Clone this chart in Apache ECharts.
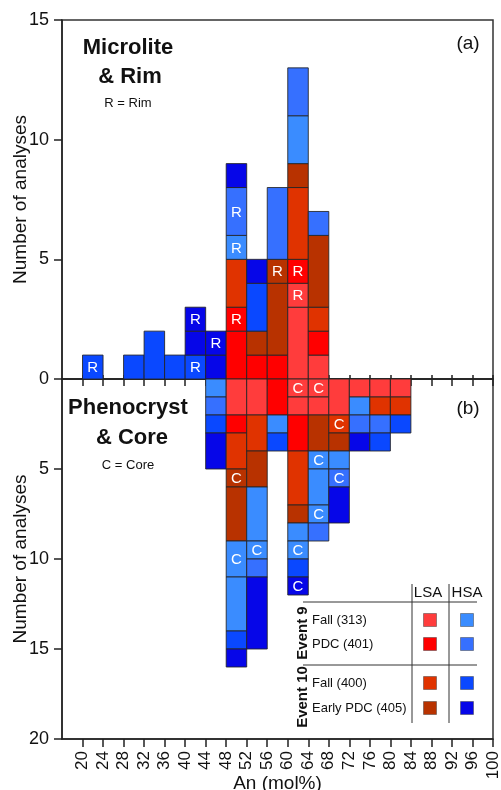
<!DOCTYPE html>
<html>
<head>
<meta charset="utf-8">
<script src="https://cdn.jsdelivr.net/npm/echarts@6/dist/echarts.min.js"></script>
<style>
html,body{margin:0;padding:0;background:#fff;}
#c{width:501px;height:790px;}
</style>
</head>
<body>
<div id="c"></div>
<script>
// ---- data ----
const xTickLabels = [20,24,28,32,36,40,44,48,52,56,60,64,68,72,76,80,84,88,92,96,100];
const binWidth = 4;
const groupKeys = ['F9L','P9L','F10L','E10L','F9H','P9H','F10H','E10H'];
const groupColors = ['#ff3c3c','#ff0000','#e03300','#b83200','#3a8cff','#3670ff','#0a48ff','#0606e8'];
const legendRows = ['Fall (313)','PDC (401)','Fall (400)','Early PDC (405)'];

// Panel (a) Microlite & Rim: bin start and stacked segments [group, count, label] from 0 upward
const rimBins = [20, 28, 32, 36, 40, 44, 48, 52, 56, 60, 64];
const rimStacks = [
  [['F10H',1,'R']],
  [['F10H',1]],
  [['F10H',2]],
  [['F10H',1]],
  [['F10H',1,'R'],['E10H',1],['E10H',1,'R']],
  [['E10H',1],['E10H',1,'R']],
  [['P9L',2],['P9L',1,'R'],['F10L',2],['F9H',1,'R'],['P9H',2,'R'],['E10H',1]],
  [['P9L',1],['E10L',1],['F10H',2],['E10H',1]],
  [['P9L',1],['E10L',3],['E10L',1,'R'],['P9H',3]],
  [['F9L',3],['F9L',1,'R'],['P9L',1,'R'],['F10L',3],['E10L',1],['F9H',2],['P9H',2]],
  [['F9L',1],['P9L',1],['F10L',1],['E10L',3],['P9H',1]]
];

// Panel (b) Phenocryst & Core: stacked segments from 0 downward
const coreBins = [44, 48, 52, 56, 60, 64, 68, 72, 76, 80];
const coreStacks = [
  [['F9H',1],['P9H',1],['F10H',1],['E10H',2]],
  [['F9L',2],['P9L',1],['F10L',2],['E10L',1,'C'],['E10L',3],['F9H',2,'C'],['F9H',3],['F10H',1],['E10H',1]],
  [['F9L',2],['F10L',2],['E10L',2],['F9H',3],['F9H',1,'C'],['P9H',1],['E10H',4]],
  [['P9L',2],['F9H',1],['F10H',1]],
  [['F9L',1,'C'],['F9L',1],['P9L',2],['F10L',3],['E10L',1],['F9H',1],['F9H',1,'C'],['F10H',1],['E10H',1,'C']],
  [['F9L',1,'C'],['F9L',1],['E10L',2],['F9H',1,'C'],['F9H',2],['F9H',1,'C'],['P9H',1]],
  [['F9L',2],['F10L',1,'C'],['E10L',1],['F9H',1],['P9H',1,'C'],['E10H',2]],
  [['F9L',1],['F9H',1],['P9H',1],['E10H',1]],
  [['F9L',1],['F10L',1],['P9H',1],['F10H',1]],
  [['F9L',1],['F10L',1],['F10H',1]]
];

// ---- build segment tables ----
function buildSegments(bins, stacks) {
  const data = [], labels = [];
  bins.forEach((b, i) => {
    let cum = 0;
    stacks[i].forEach(seg => {
      const g = groupKeys.indexOf(seg[0]);
      data.push([b, b + binWidth, cum, cum + seg[1], g]);
      labels.push(seg[2] || '');
      cum += seg[1];
    });
  });
  return {data, labels};
}
const rim = buildSegments(rimBins, rimStacks);
const core = buildSegments(coreBins, coreStacks);

function makeRender(labels) {
  return function (params, api) {
    const a = api.coord([api.value(0), api.value(2)]);
    const b = api.coord([api.value(1), api.value(3)]);
    const x = Math.min(a[0], b[0]), y = Math.min(a[1], b[1]);
    const w = Math.abs(b[0] - a[0]), h = Math.abs(b[1] - a[1]);
    const children = [{
      type: 'rect',
      shape: {x: x, y: y, width: w, height: h},
      style: {fill: groupColors[api.value(4)], stroke: 'rgba(35,35,35,0.85)', lineWidth: 1}
    }];
    const t = labels[params.dataIndex];
    if (t) {
      children.push({
        type: 'text',
        style: {text: t, x: x + w / 2, y: y + h / 2 + 1, align: 'center', verticalAlign: 'middle',
          fill: '#ffffff', font: '15px "Liberation Sans", Arial, sans-serif'}
      });
    }
    return {type: 'group', children: children};
  };
}

const FONT = '"Liberation Sans", Arial, Helvetica, sans-serif';
const chart = echarts.init(document.getElementById('c'), null, {renderer: 'canvas'});

const gridL = 62, gridW = 431;
const textBlack = '#111';

function txt(x, y, text, size, bold, extra) {
  return Object.assign({
    type: 'text', x: x, y: y, z: 100,
    style: {text: text, align: 'center', verticalAlign: 'middle', fill: textBlack,
      font: (bold ? 'bold ' : '') + size + 'px ' + FONT}
  }, extra || {});
}
function hline(x1, x2, y) {
  return {type: 'line', z: 100, shape: {x1: x1, y1: y, x2: x2, y2: y}, style: {stroke: '#333', lineWidth: 1}};
}
function vline(x, y1, y2) {
  return {type: 'line', z: 100, shape: {x1: x, y1: y1, x2: x, y2: y2}, style: {stroke: '#333', lineWidth: 1}};
}

const legendY = [620, 644, 683, 708];
const graphics = [
  txt(128, 48, 'Microlite', 22, true),
  txt(130, 77, '& Rim', 22, true),
  txt(128, 103, 'R = Rim', 13, false),
  txt(468, 44, '(a)', 19, false),
  txt(128, 408, 'Phenocryst', 22, true),
  txt(132, 438, '& Core', 22, true),
  txt(128, 465, 'C = Core', 13, false),
  txt(468, 409, '(b)', 19, false),
  txt(428, 593, 'LSA', 15, false),
  txt(467, 593, 'HSA', 15, false),
  hline(303, 477, 602),
  hline(303, 477, 665),
  vline(412, 584, 723),
  vline(449, 584, 723),
  txt(303, 633, 'Event 9', 15, true, {rotation: Math.PI / 2}),
  txt(303, 697, 'Event 10', 15, true, {rotation: Math.PI / 2})
];
legendRows.forEach((name, i) => {
  graphics.push({
    type: 'text', x: 312, y: legendY[i], z: 100,
    style: {text: name, align: 'left', verticalAlign: 'middle', fill: textBlack, font: '13px ' + FONT}
  });
  [430, 467].forEach((cx, j) => {
    graphics.push({
      type: 'rect', z: 100,
      shape: {x: cx - 6.5, y: legendY[i] - 6.5, width: 13, height: 13},
      style: {fill: groupColors[i + j * 4], stroke: 'rgba(60,60,60,0.6)', lineWidth: 0.8}
    });
  });
});

const axisLineStyle = {color: '#222', width: 1.5};
const option = {
  animation: false,
  backgroundColor: '#fff',
  grid: [
    {left: gridL, width: gridW, top: 20, height: 359, show: true, borderColor: '#333', borderWidth: 1.5,
      backgroundColor: 'transparent', containLabel: false, outerBoundsMode: 'none'},
    {left: gridL, width: gridW, top: 379, height: 360, show: true, borderColor: '#333', borderWidth: 1.5,
      backgroundColor: 'transparent', containLabel: false, outerBoundsMode: 'none'}
  ],
  xAxis: [
    {type: 'value', gridIndex: 0, min: 16, max: 100, interval: 4, position: 'bottom',
      axisLine: {show: true, lineStyle: axisLineStyle},
      axisTick: {show: true, inside: false, length: 7, lineStyle: {color: '#222', width: 1.5}, customValues: xTickLabels},
      axisLabel: {show: false}, splitLine: {show: false}},
    {type: 'value', gridIndex: 1, min: 16, max: 100, interval: 4, position: 'top',
      axisLine: {show: false},
      axisTick: {show: true, inside: false, length: 4, lineStyle: {color: '#222', width: 1.5}, customValues: xTickLabels},
      axisLabel: {show: false}, splitLine: {show: false}},
    {type: 'value', gridIndex: 1, min: 16, max: 100, interval: 4, position: 'bottom',
      name: 'An (mol%)', nameLocation: 'middle', nameGap: 35, nameMoveOverlap: false,
      nameTextStyle: {fontSize: 19, color: textBlack, fontFamily: FONT},
      axisLine: {show: true, lineStyle: axisLineStyle},
      axisTick: {show: true, inside: false, length: 8, lineStyle: {color: '#222', width: 1.5}, customValues: xTickLabels},
      axisLabel: {show: true, rotate: 90, fontSize: 17, color: textBlack, fontFamily: FONT, margin: 12,
        customValues: xTickLabels},
      splitLine: {show: false}}
  ],
  yAxis: [
    {type: 'value', gridIndex: 0, min: 0, max: 15, interval: 5,
      name: 'Number of analyses', nameLocation: 'middle', nameGap: 32, nameRotate: 90, nameMoveOverlap: false,
      nameTextStyle: {fontSize: 19, color: textBlack, fontFamily: FONT},
      axisLine: {show: true, lineStyle: axisLineStyle},
      axisTick: {show: true, length: 8, lineStyle: {color: '#222', width: 1.5}},
      axisLabel: {fontSize: 18, color: textBlack, fontFamily: FONT, margin: 13},
      splitLine: {show: false}},
    {type: 'value', gridIndex: 1, min: 0, max: 20, interval: 5, inverse: true,
      name: 'Number of analyses', nameLocation: 'middle', nameGap: 32, nameRotate: 90, nameMoveOverlap: false,
      nameTextStyle: {fontSize: 19, color: textBlack, fontFamily: FONT},
      axisLine: {show: true, lineStyle: axisLineStyle},
      axisTick: {show: true, length: 8, lineStyle: {color: '#222', width: 1.5}},
      axisLabel: {fontSize: 18, color: textBlack, fontFamily: FONT, margin: 13,
        formatter: v => (v === 0 ? '' : String(v))},
      splitLine: {show: false}}
  ],
  series: [
    {type: 'custom', xAxisIndex: 0, yAxisIndex: 0, renderItem: makeRender(rim.labels),
      encode: {x: [0, 1], y: [2, 3]}, data: rim.data, clip: false},
    {type: 'custom', xAxisIndex: 2, yAxisIndex: 1, renderItem: makeRender(core.labels),
      encode: {x: [0, 1], y: [2, 3]}, data: core.data, clip: false}
  ],
  graphic: graphics
};
chart.setOption(option);
</script>
</body>
</html>
